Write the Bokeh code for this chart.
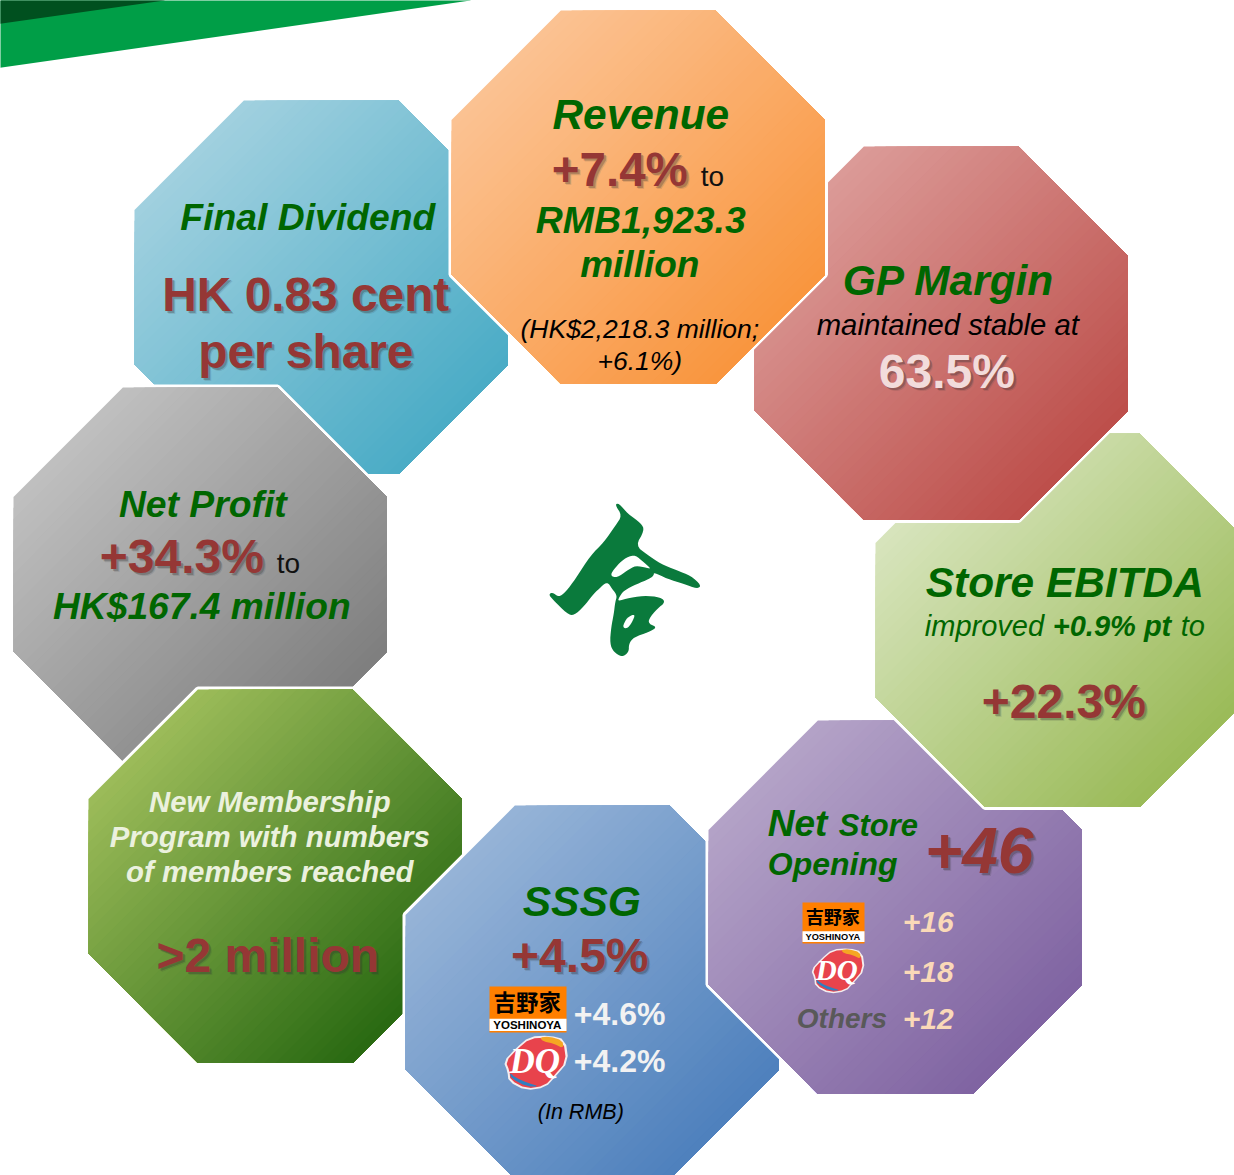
from bokeh.plotting import figure
from bokeh.models import Range1d
from bokeh.core.properties import value
from bokeh.embed import file_html
from bokeh.resources import INLINE

# ---------- content ----------
revenue_change = "+7.4%"
revenue_amount = ["RMB1,923.3", "million"]
revenue_hkd = ["(HK$2,218.3 million;", "+6.1%)"]
dividend = ["HK 0.83 cent", "per share"]
gp_margin = "63.5%"
net_profit_change = "+34.3%"
net_profit_amount = "HK$167.4 million"
ebitda_change = "+0.9% pt"
ebitda_margin = "+22.3%"
net_stores = "+46"
store_rows = ["+16", "+18", "+12"]
sssg_total = "+4.5%"
sssg_rows = ["+4.6%", "+4.2%"]
membership = ["New Membership", "Program with numbers", "of members reached"]
members = ">2 million"

# ---------- layout & style ----------
W, H = 1234, 1175
GREEN = "#006600"
RED = "#953735"
SANS = "Liberation Sans"
OCT = 373.5
# draw order: left, top, light corner colour, dark corner colour
tiles = [
    (134, 100, "#A0D0DF", "#4BACC6"),   # dividend
    (13, 387, "#BFBFBF", "#7F7F7F"),    # net profit
    (88, 689, "#9BBB59", "#2A6A12"),    # membership
    (405, 805, "#95B3D7", "#4F81BD"),   # SSSG
    (708, 720, "#B3A2C7", "#8064A2"),   # net stores
    (875, 433, "#D7E4BC", "#9BBB59"),   # EBITDA
    (754, 146, "#DB9A97", "#BD4F4B"),   # GP margin
    (451, 10, "#FBC292", "#F9963F"),    # revenue
]

p = figure(width=W, height=H, x_range=Range1d(0, W), y_range=Range1d(H, 0),
           output_backend="svg", toolbar_location=None, min_border=0,
           x_axis_type=None, y_axis_type=None, outline_line_color=None,
           background_fill_color="white", border_fill_color="white")
p.grid.visible = False


def hexrgb(c):
    return tuple(int(c[i:i + 2], 16) for i in (1, 3, 5))


def mix(a, b, t):
    ca, cb = hexrgb(a), hexrgb(b)
    return "#%02x%02x%02x" % tuple(round(u + (v - u) * t) for u, v in zip(ca, cb))


def clip(poly, t0):
    """polygon part on the far side of the diagonal x + y = t0"""
    out = []
    for i, (x1, y1) in enumerate(poly):
        x2, y2 = poly[(i + 1) % len(poly)]
        d1, d2 = x1 + y1 - t0, x2 + y2 - t0
        if d1 >= 0:
            out.append((x1, y1))
        if (d1 >= 0) != (d2 >= 0):
            k = d1 / (d1 - d2)
            out.append((x1 + (x2 - x1) * k, y1 + (y2 - y1) * k))
    return out


def octagon(x, y, s=OCT):
    c = s * 0.2929
    return [(x + c, y), (x + s - c, y), (x + s, y + c), (x + s, y + s - c),
            (x + s - c, y + s), (x + c, y + s), (x, y + s - c), (x, y + c)]


def poly(points, color, **kw):
    p.patch([a for a, _ in points], [b for _, b in points], fill_color=color,
            line_color=kw.get("line", None), line_width=kw.get("lw", 1))


def smooth(points, rounds=2):
    for _ in range(rounds):
        out = []
        for i, (x1, y1) in enumerate(points):
            x2, y2 = points[(i + 1) % len(points)]
            out.append((0.75 * x1 + 0.25 * x2, 0.75 * y1 + 0.25 * y2))
            out.append((0.25 * x1 + 0.75 * x2, 0.25 * y1 + 0.75 * y2))
        points = out
    return points


BASE = 0.35


def text(s, x, y, size, color, bold=True, italic=True, align="center", shadow=False, font=SANS):
    style = ("bold " if bold else "") + ("italic" if italic else "")
    style = style.strip() or "normal"
    x = x - 0.7
    y = y - BASE * size
    if shadow:
        for d, a in ((3, 0.14), (2, 0.3)):
            p.text([x + d], [y + d], text=[s], text_font=value(font), text_font_size=f"{size}px",
                   text_font_style=style, text_color="#333333", text_alpha=a, text_align=align,
                   text_baseline="alphabetic")
    p.text([x], [y], text=[s], text_font=value(font), text_font_size=f"{size}px",
           text_font_style=style, text_color=color, text_align=align, text_baseline="alphabetic")


# banner
poly([(-6, -6), (470, -6), (470, 0), (-6, 68)], "#009E47")
poly([(-6, -6), (164, -6), (164, 0), (-6, 24)], "#00501F")

# tiles with diagonal shading
for x, y, c0, c1 in tiles:
    base = octagon(x, y)
    poly(base, c0, line="white", lw=6)
    poly(base, c0)
    tmin = x + y + OCT * 0.2929
    tmax = x + y + 2 * OCT - OCT * 0.2929
    steps = 48
    for i in range(1, steps):
        t = tmin + (tmax - tmin) * i / steps
        poly(clip(base, t), mix(c0, c1, i / (steps - 1)))

# centre logo
ox, oy = 520, 480
logo_a = [(283, 72), (295, 68), (322, 100), (362, 128), (372, 150), (345, 195), (380, 222), (420, 250),
          (470, 270), (510, 285), (543, 315), (530, 325), (490, 310), (440, 295), (400, 275), (400, 285),
          (385, 296), (350, 310), (310, 330), (296, 350), (292, 362), (315, 355), (370, 345), (420, 350),
          (435, 365), (410, 385), (385, 415), (385, 430), (410, 440), (385, 455), (340, 470), (325, 490),
          (325, 515), (305, 530), (280, 515), (268, 490), (272, 440), (280, 400), (284, 365), (290, 345),
          (275, 325), (260, 303), (235, 325), (215, 345), (190, 378), (160, 405), (140, 400), (95, 355),
          (85, 342), (95, 335), (115, 350), (135, 335), (165, 295), (210, 225), (250, 185), (285, 135),
          (305, 105)]
logo_n = [(340, 222), (362, 238), (392, 265), (380, 262), (345, 255), (320, 270), (290, 292), (268, 285),
          (285, 260), (310, 235)]
logo_h = [(305, 440), (320, 410), (345, 400), (335, 425), (320, 445)]
for shape, col in ((logo_a, "#0A7A3C"), (logo_n, "#FFFFFF"), (logo_h, "#FFFFFF")):
    poly(smooth([(ox + a / 3, oy + b / 3) for a, b in shape]), col)


def yoshinoya(x, y, w, h):
    k = w / 77
    poly([(x, y), (x + w, y), (x + w, y + h), (x, y + h)], "#FF7F00")
    poly([(x, y + h * 0.70), (x + w, y + h * 0.70), (x + w, y + h * 0.965), (x, y + h * 0.965)], "#FFFFFF")
    text("吉野家", x + w / 2, y + h * 0.48, 22.5 * k, "#000000", italic=False, font="Noto Sans CJK JP")
    text("YOSHINOYA", x + w / 2, y + h * 0.92, 11.5 * k, "#000000", italic=False)


def dq(cx, cy, k=1.0):
    outer = [(-32, -2), (-20, -15), (-6, -27), (14, -28), (30, -24), (33, -2), (20, 13), (10, 24), (-10, 27),
             (-27, 18), (-28, 8)]
    red = [(a * 0.93, b * 0.93) for a, b in outer]
    orange = [(4, -26), (14, -27), (27, -23), (28, -15), (18, -20), (8, -22)]
    blue = [(-26, 9), (-24, 15), (-9, 23), (4, 23), (-9, 19), (-20, 14)]
    for shape, col in ((outer, "#F4EDEE"), (red, "#E8434C"), (orange, "#F5A623"), (blue, "#2F7FC1")):
        poly(smooth([(cx + a * k, cy + b * k) for a, b in shape], 1), col)
    text("DQ", cx, cy + 10 * k, 35 * k, "#FFFFFF", font="Liberation Serif")


# revenue
text("Revenue", 641, 129, 42.4, GREEN)
text(revenue_change, 552, 186, 47.5, RED, italic=False, align="left", shadow=True)
text("to", 701, 186, 28, "#111111", bold=False, italic=False, align="left")
text(revenue_amount[0], 641, 233, 37.4, GREEN)
text(revenue_amount[1], 640, 277, 37, GREEN)
text(revenue_hkd[0], 640, 338, 26.5, "#000000", bold=False)
text(revenue_hkd[1], 640, 370, 26.5, "#000000", bold=False)

# dividend
text("Final Dividend", 308, 230, 37.3, GREEN)
text(dividend[0], 306, 311, 47.8, RED, italic=False, shadow=True)
text(dividend[1], 306, 368, 47.8, RED, italic=False, shadow=True)

# GP margin
text("GP Margin", 949, 295, 42.4, GREEN)
text("maintained stable at", 948, 334, 29.3, "#000000", bold=False)
text(gp_margin, 947, 388, 48, "#F2DCDB", italic=False, shadow=True)

# net profit
text("Net Profit", 203, 517, 37.3, GREEN)
text(net_profit_change, 100, 573, 48, RED, italic=False, align="left", shadow=True)
text("to", 277, 573, 28, "#111111", bold=False, italic=False, align="left")
text(net_profit_amount, 202, 619, 37.2, GREEN)

# EBITDA
text("Store EBITDA", 1065, 597, 42.4, GREEN)
text("improved", 925, 636, 29, GREEN, bold=False, align="left")
text(ebitda_change, 1053, 636, 29, GREEN, align="left")
text("to", 1181, 636, 29, GREEN, bold=False, align="left")
text(ebitda_margin, 1064, 718, 48, RED, italic=False, shadow=True)

# net stores
text("Net", 768, 836, 37, GREEN, align="left")
text("Store", 839, 836, 31, GREEN, align="left")
text("Opening", 768, 875, 32, GREEN, align="left")
text(net_stores, 925, 872, 64, RED, align="left", shadow=True)
yoshinoya(802, 902, 62, 41)
dq(837, 971, 0.83)
text("Others", 797, 1028, 28, "#595959", align="left")
for label, yy in zip(store_rows, (932, 982, 1029)):
    text(label, 903, yy, 30, "#FAD9B8", align="left")

# SSSG
text("SSSG", 582, 916, 42.5, GREEN)
text(sssg_total, 580, 972, 48, RED, italic=False, shadow=True)
yoshinoya(489, 986, 77, 46)
dq(535, 1063)
text(sssg_rows[0], 574, 1025, 32, "#F2F2F2", italic=False, align="left")
text(sssg_rows[1], 574, 1072, 32, "#F2F2F2", italic=False, align="left")
text("(In RMB)", 581, 1119, 21.5, "#000000", bold=False)

# membership
for line, yy in zip(membership, (811.5, 846.5, 881.5)):
    text(line, 270, yy, 29.4, "#EBF1DE")
text(members, 268, 972, 48, RED, italic=False, shadow=True)

open("out.html", "w").write(file_html(p, INLINE))
